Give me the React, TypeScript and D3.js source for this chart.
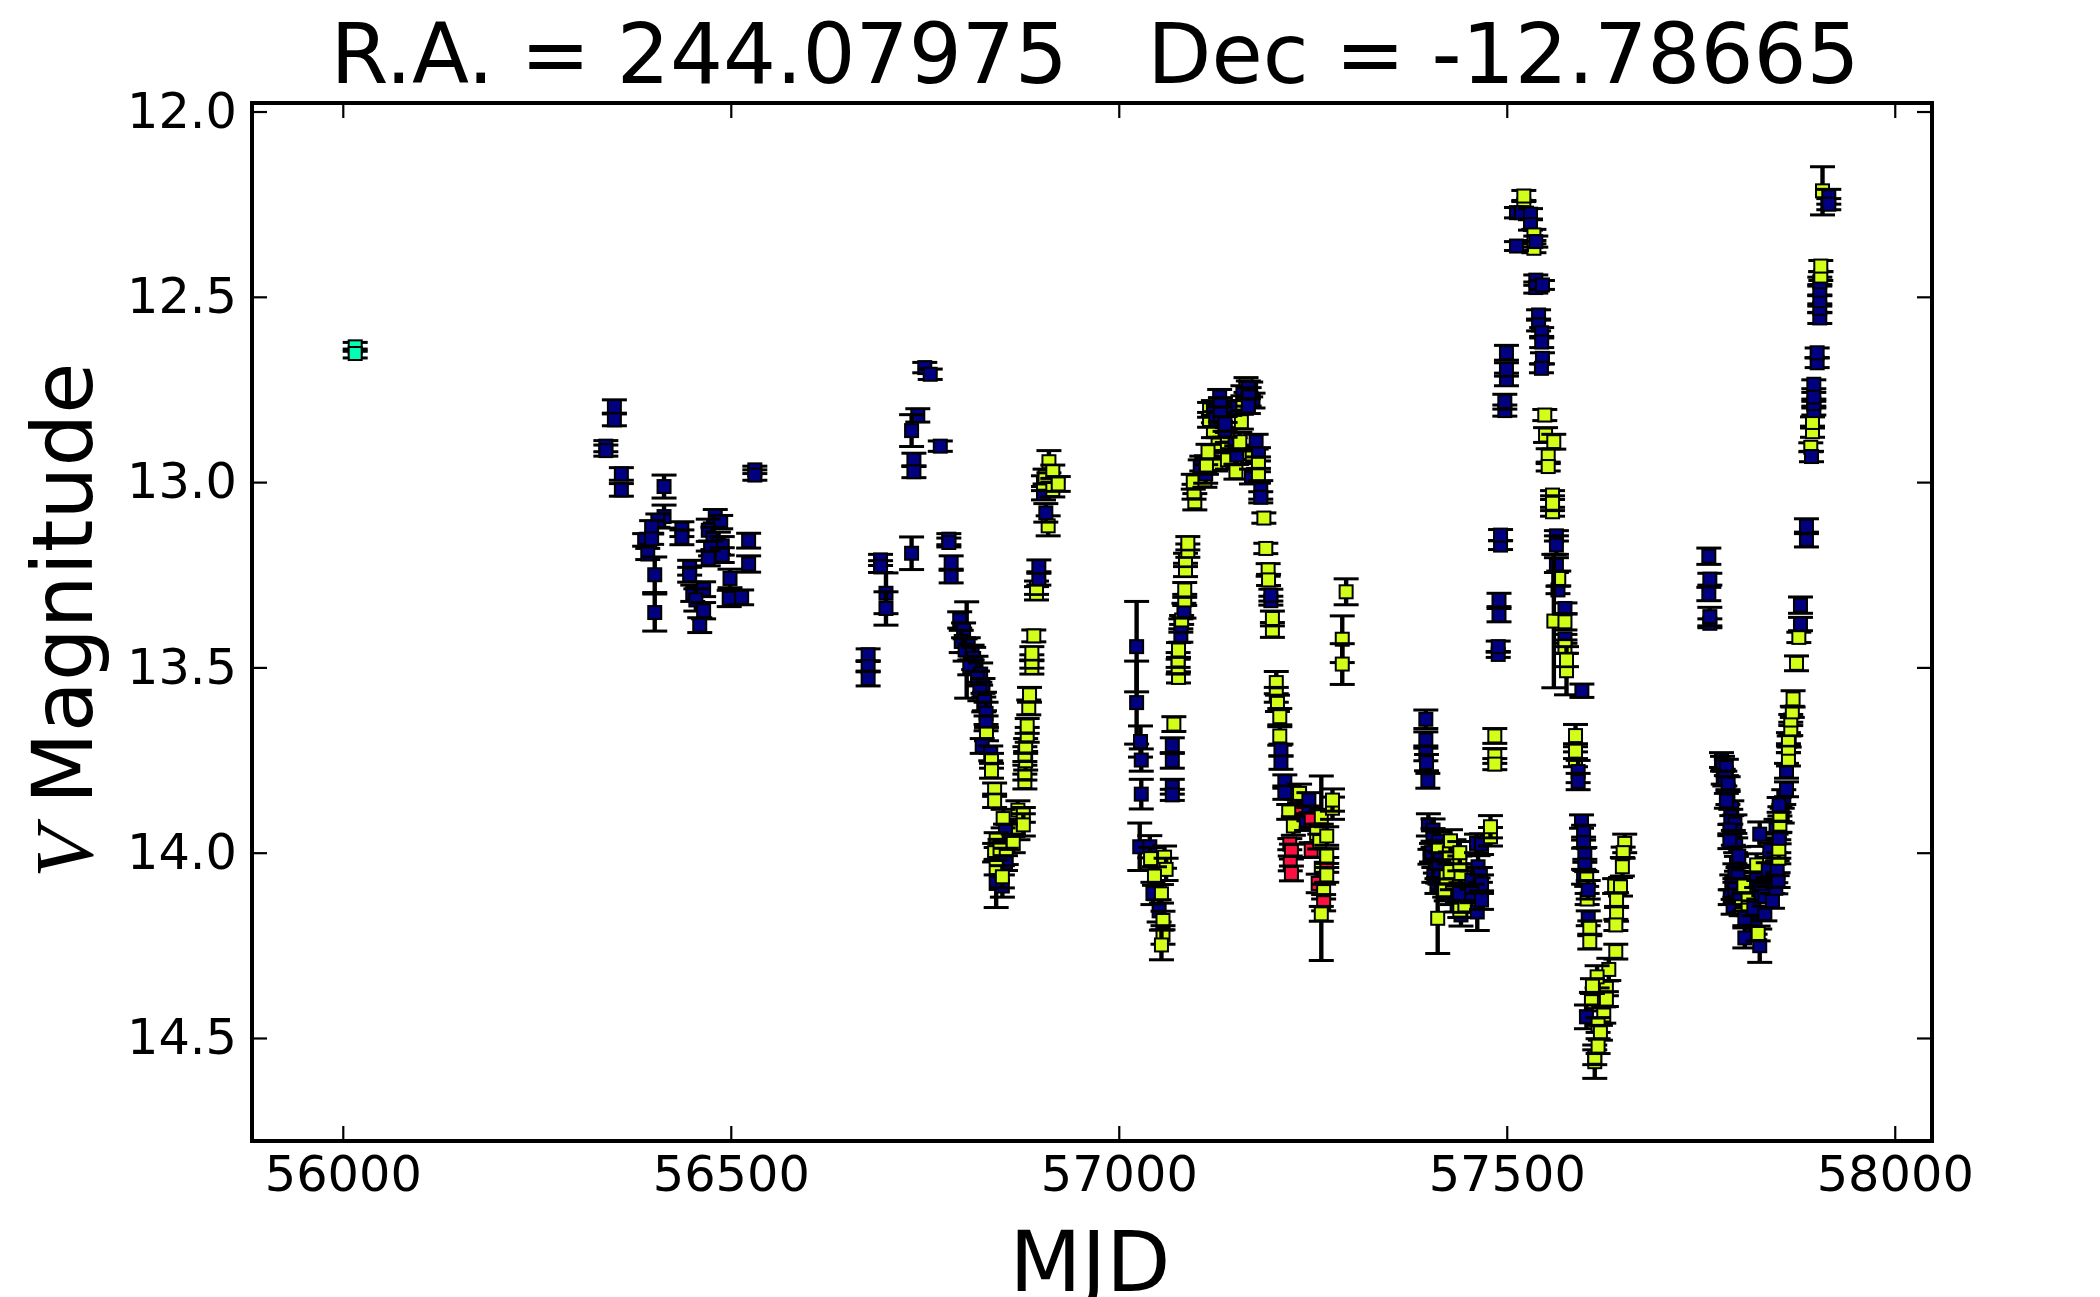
import { useEffect, useRef } from 'react'
import * as d3 from 'd3'

// one row = [MJD, V mag, error, camera]
type Obs = [number, number, number, string]

const xTicks = [56000, 56500, 57000, 57500, 58000]
const yTicks = [12.0, 12.5, 13.0, 13.5, 14.0, 14.5]
const cameraColor: Record<string, string> = { b: '#000080', y: '#d2ff1a', r: '#ff1040', t: '#00ffb4' }

const season2012: Obs[] = [
  [56016, 12.635, 0.012, 't'], [56016, 12.653, 0.012, 't'],
]

const season2013: Obs[] = [
  [56350, 12.796, 0.018, 'b'], [56350, 12.832, 0.016, 'b'], [56339, 12.903, 0.015, 'b'], [56339, 12.915, 0.015, 'b'],
  [56359, 12.978, 0.017, 'b'], [56359, 13.021, 0.017, 'b'], [56414, 13.012, 0.031, 'b'], [56414, 13.093, 0.031, 'b'],
  [56406, 13.104, 0.018, 'b'], [56398, 13.122, 0.018, 'b'], [56389, 13.156, 0.017, 'b'], [56398, 13.153, 0.015, 'b'],
  [56393, 13.194, 0.015, 'b'], [56402, 13.25, 0.048, 'b'], [56402, 13.352, 0.05, 'b'], [56437, 13.127, 0.02, 'b'],
  [56437, 13.149, 0.02, 'b'], [56447, 13.231, 0.02, 'b'], [56447, 13.25, 0.02, 'b'], [56451, 13.3, 0.022, 'b'],
  [56465, 13.289, 0.02, 'b'], [56455, 13.318, 0.03, 'b'], [56465, 13.347, 0.022, 'b'], [56460, 13.386, 0.02, 'b'],
  [56480, 13.092, 0.018, 'b'], [56487, 13.108, 0.018, 'b'], [56471, 13.13, 0.03, 'b'], [56477, 13.152, 0.03, 'b'],
  [56484, 13.165, 0.03, 'b'], [56489, 13.172, 0.025, 'b'], [56474, 13.179, 0.02, 'b'], [56489, 13.197, 0.02, 'b'],
  [56471, 13.206, 0.02, 'b'], [56523, 13.158, 0.02, 'b'], [56523, 13.221, 0.022, 'b'], [56499, 13.26, 0.025, 'b'],
  [56498, 13.314, 0.022, 'b'], [56514, 13.311, 0.02, 'b'], [56531, 12.967, 0.01, 'b'], [56531, 12.981, 0.014, 'b'],
]

const season2014: Obs[] = [
  [56750, 12.691, 0.014, 'b'], [56757, 12.709, 0.014, 'b'], [56741, 12.82, 0.018, 'b'], [56733, 12.861, 0.043, 'b'],
  [56736, 12.94, 0.018, 'b'], [56736, 12.972, 0.016, 'b'], [56770, 12.903, 0.014, 'b'], [56733, 13.192, 0.044, 'b'],
  [56781, 13.154, 0.015, 'b'], [56781, 13.163, 0.012, 'b'], [56784, 13.217, 0.018, 'b'], [56784, 13.255, 0.017, 'b'],
  [56693, 13.21, 0.015, 'b'], [56693, 13.228, 0.016, 'b'], [56700, 13.3, 0.055, 'b'], [56700, 13.341, 0.045, 'b'],
  [56677, 13.466, 0.016, 'b'], [56677, 13.498, 0.014, 'b'], [56677, 13.53, 0.02, 'b'],
  [56804, 13.453, 0.13, 'b'], [56795, 13.372, 0.022, 'b'], [56800, 13.4, 0.02, 'b'], [56797, 13.43, 0.03, 'b'],
  [56806, 13.44, 0.02, 'b'], [56802, 13.453, 0.03, 'b'], [56811, 13.46, 0.02, 'b'], [56813, 13.476, 0.03, 'b'],
  [56816, 13.49, 0.02, 'b'], [56808, 13.5, 0.02, 'b'], [56822, 13.518, 0.03, 'b'], [56818, 13.53, 0.02, 'b'],
  [56825, 13.55, 0.02, 'b'], [56821, 13.565, 0.025, 'b'], [56826, 13.6, 0.02, 'b'],
  [56827, 13.592, 0.025, 'b'], [56829, 13.624, 0.03, 'b'], [56829, 13.651, 0.02, 'b'], [56829.5, 13.68, 0.018, 'y'],
  [56824, 13.712, 0.02, 'b'], [56835, 13.732, 0.02, 'b'], [56836, 13.752, 0.02, 'y'], [56836, 13.779, 0.02, 'y'],
  [56840, 13.83, 0.018, 'y'], [56840, 13.86, 0.018, 'y'], [56842, 14.083, 0.065, 'b'],
  [56870, 13.885, 0.025, 'y'], [56877, 13.898, 0.02, 'y'], [56870, 13.94, 0.025, 'y'], [56877, 13.925, 0.03, 'y'],
  [56851, 13.908, 0.025, 'y'], [56854, 13.943, 0.02, 'b'], [56842, 13.966, 0.02, 'y'], [56847, 13.984, 0.02, 'b'],
  [56840, 14.0, 0.025, 'y'], [56847, 13.993, 0.02, 'y'], [56864, 13.975, 0.025, 'y'], [56855, 14.01, 0.022, 'y'],
  [56854, 14.028, 0.02, 'b'], [56842, 14.04, 0.02, 'y'], [56850, 14.09, 0.03, 'b'], [56850, 14.065, 0.03, 'y'],
  [56879, 13.808, 0.02, 'y'], [56879, 13.784, 0.02, 'y'], [56880, 13.752, 0.025, 'y'], [56879, 13.734, 0.02, 'y'],
  [56880, 13.712, 0.02, 'y'], [56882, 13.682, 0.02, 'y'], [56882, 13.658, 0.02, 'y'], [56884, 13.608, 0.02, 'y'],
  [56885, 13.574, 0.02, 'y'], [56888, 13.5, 0.018, 'y'], [56888, 13.484, 0.018, 'y'], [56888, 13.462, 0.018, 'y'],
  [56890.5, 13.415, 0.016, 'y'], [56894, 13.3, 0.018, 'y'], [56894, 13.285, 0.018, 'y'], [56897, 13.26, 0.018, 'b'],
  [56897, 13.228, 0.018, 'b'], [56909, 13.118, 0.027, 'y'], [56906, 13.083, 0.025, 'b'], [56903, 13.03, 0.018, 'b'],
  [56903, 13.003, 0.02, 'y'], [56905, 12.985, 0.02, 'y'], [56910, 12.945, 0.03, 'y'], [56915, 12.972, 0.018, 'y'],
  [56915, 13.02, 0.02, 'y'], [56922, 13.005, 0.02, 'y'],
]

const season2015: Obs[] = [
  [57023, 13.444, 0.122, 'b'], [57023, 13.595, 0.112, 'b'], [57028, 13.7, 0.042, 'b'], [57029, 13.75, 0.03, 'b'],
  [57029, 13.842, 0.04, 'b'], [57027, 13.984, 0.064, 'b'], [57040, 13.984, 0.03, 'b'], [57041, 14.016, 0.03, 'y'],
  [57059, 14.012, 0.03, 'y'], [57061, 14.045, 0.03, 'y'], [57046, 14.063, 0.025, 'y'], [57044, 14.11, 0.03, 'b'],
  [57055, 14.111, 0.025, 'y'], [57052, 14.157, 0.03, 'b'], [57057, 14.183, 0.025, 'y'], [57057, 14.222, 0.025, 'y'],
  [57055, 14.249, 0.04, 'y'],
  [57071, 13.653, 0.02, 'y'], [57069, 13.71, 0.02, 'b'], [57069, 13.752, 0.02, 'b'], [57069, 13.822, 0.02, 'b'],
  [57069, 13.844, 0.015, 'b'], [57077, 13.527, 0.015, 'y'], [57076.5, 13.498, 0.02, 'y'], [57076.5, 13.48, 0.02, 'y'],
  [57077, 13.453, 0.02, 'y'], [57080, 13.414, 0.018, 'b'], [57080, 13.387, 0.018, 'b'], [57081, 13.372, 0.012, 'y'],
  [57084, 13.347, 0.02, 'b'], [57085, 13.318, 0.015, 'y'], [57085, 13.291, 0.02, 'y'], [57086, 13.237, 0.018, 'y'],
  [57086, 13.21, 0.018, 'y'], [57089, 13.185, 0.018, 'y'], [57089, 13.165, 0.018, 'y'],
  [57098, 13.053, 0.022, 'y'], [57097, 13.026, 0.02, 'y'], [57096, 12.999, 0.02, 'y'], [57107, 12.95, 0.02, 'y'],
  [57105, 12.96, 0.02, 'b'], [57125, 12.95, 0.02, 'y'], [57122, 12.86, 0.02, 'y'], [57128, 12.9, 0.02, 'y'],
  [57111, 12.994, 0.02, 'y'], [57112, 12.978, 0.025, 'b'], [57113, 12.954, 0.025, 'y'], [57115, 12.918, 0.02, 'y'],
  [57140, 12.94, 0.025, 'y'], [57140, 12.891, 0.025, 'y'], [57140, 12.873, 0.02, 'y'], [57151, 12.972, 0.02, 'y'],
  [57150, 12.9, 0.02, 'b'], [57165, 12.92, 0.02, 'y'], [57172, 12.93, 0.02, 'y'],
  [57152, 12.927, 0.025, 'b'], [57156, 12.891, 0.025, 'y'], [57158, 12.837, 0.02, 'y'], [57117, 12.832, 0.02, 'y'],
  [57117, 12.805, 0.02, 'y'], [57122, 12.8, 0.02, 'b'], [57125, 12.83, 0.02, 'b'], [57143, 12.8, 0.02, 'b'],
  [57130, 12.77, 0.02, 'b'], [57131, 12.792, 0.02, 'b'], [57131, 12.817, 0.02, 'b'],
  [57137, 12.859, 0.02, 'b'], [57137, 12.843, 0.02, 'b'], [57164, 12.738, 0.02, 'y'], [57160, 12.787, 0.02, 'y'],
  [57160, 12.76, 0.02, 'b'], [57170, 12.75, 0.02, 'b'], [57173, 12.78, 0.02, 'b'],
  [57167, 12.747, 0.02, 'b'], [57168, 12.77, 0.025, 'b'], [57167, 12.795, 0.02, 'b'],
  [57177, 12.891, 0.02, 'b'], [57180, 12.925, 0.018, 'b'], [57171, 12.985, 0.02, 'b'], [57180, 12.952, 0.02, 'y'],
  [57180, 12.983, 0.02, 'y'], [57183, 13.021, 0.025, 'b'], [57183, 13.041, 0.015, 'b'], [57187, 13.097, 0.014, 'y'],
  [57189.5, 13.179, 0.014, 'y'], [57192.5, 13.237, 0.017, 'y'], [57193, 13.264, 0.015, 'y'], [57196, 13.32, 0.012, 'b'],
  [57196, 13.305, 0.016, 'b'], [57198, 13.399, 0.02, 'y'], [57198, 13.368, 0.02, 'y'],
  [57203, 13.541, 0.03, 'y'], [57203, 13.574, 0.02, 'y'], [57204.5, 13.597, 0.022, 'y'], [57207.5, 13.633, 0.022, 'y'],
  [57207.5, 13.685, 0.025, 'y'], [57209, 13.723, 0.016, 'b'], [57209, 13.757, 0.018, 'b'], [57214, 13.808, 0.018, 'b'],
  [57214, 13.838, 0.018, 'b'], [57261, 14.042, 0.249, 'y'], [57230, 13.876, 0.02, 'r'], [57233, 13.84, 0.025, 'y'],
  [57219, 13.89, 0.02, 'y'], [57225, 13.928, 0.025, 'y'], [57245, 13.858, 0.02, 'b'], [57245, 13.894, 0.02, 'b'],
  [57242, 13.92, 0.02, 'b'], [57248, 13.912, 0.02, 'r'], [57220.4, 13.977, 0.015, 'r'], [57222.5, 13.997, 0.02, 'r'],
  [57221, 14.029, 0.02, 'r'], [57222.5, 14.056, 0.02, 'r'], [57248, 13.993, 0.02, 'r'], [57255, 13.948, 0.025, 'y'],
  [57259, 13.97, 0.02, 'y'], [57261, 13.903, 0.02, 'y'], [57268, 14.033, 0.02, 'r'], [57257, 14.083, 0.025, 'r'],
  [57264, 14.105, 0.02, 'y'], [57264, 14.135, 0.022, 'r'], [57261, 14.165, 0.02, 'y'], [57268, 14.009, 0.02, 'y'],
  [57268, 14.06, 0.02, 'y'], [57268, 13.955, 0.025, 'y'], [57275.4, 13.88, 0.03, 'y'], [57275.4, 13.858, 0.03, 'y'],
  [57293, 13.296, 0.035, 'y'], [57288, 13.424, 0.063, 'y'], [57288, 13.491, 0.055, 'y'],
]

const season2016: Obs[] = [
  [57395.7, 13.64, 0.025, 'b'], [57395.7, 13.696, 0.022, 'b'], [57395.7, 13.732, 0.02, 'b'], [57396.6, 13.757, 0.022, 'b'],
  [57398.3, 13.806, 0.02, 'b'], [57411, 14.177, 0.095, 'y'], [57399, 13.925, 0.03, 'b'], [57405, 13.939, 0.03, 'b'],
  [57405, 13.96, 0.025, 'b'], [57408, 14.03, 0.025, 'b'], [57406, 14.06, 0.02, 'b'], [57410, 14.09, 0.02, 'b'],
  [57418, 14.08, 0.02, 'b'], [57422, 14.11, 0.02, 'b'], [57430, 14.12, 0.02, 'b'], [57436, 14.14, 0.02, 'b'],
  [57401, 14.011, 0.02, 'b'], [57403, 14.0, 0.025, 'b'], [57412, 13.97, 0.025, 'b'], [57412, 13.993, 0.025, 'y'],
  [57414, 14.02, 0.02, 'b'], [57412, 14.042, 0.025, 'b'], [57414, 14.065, 0.02, 'b'], [57417, 14.087, 0.02, 'b'],
  [57420, 14.1, 0.02, 'y'], [57432, 13.99, 0.025, 'y'], [57435, 14.05, 0.02, 'y'], [57430, 14.08, 0.02, 'y'],
  [57422, 14.065, 0.02, 'y'], [57427, 14.051, 0.02, 'y'], [57426, 14.0, 0.03, 'y'], [57427.5, 13.968, 0.03, 'y'],
  [57441, 14.168, 0.03, 'b'], [57439.5, 14.155, 0.02, 'y'], [57446, 14.141, 0.02, 'y'], [57448, 14.11, 0.02, 'y'],
  [57439, 14.11, 0.02, 'b'], [57441, 14.056, 0.025, 'y'], [57439.5, 14.029, 0.02, 'y'], [57439.5, 14.0, 0.03, 'y'],
  [57461, 13.975, 0.025, 'b'], [57467.5, 13.977, 0.028, 'b'], [57463, 14.038, 0.03, 'b'], [57455, 14.074, 0.025, 'b'],
  [57466, 14.06, 0.02, 'b'], [57467.5, 14.085, 0.025, 'b'], [57455, 14.11, 0.025, 'b'], [57462, 14.16, 0.05, 'b'],
  [57467.5, 14.128, 0.025, 'b'], [57479, 13.957, 0.025, 'y'], [57479, 13.93, 0.03, 'y'],
  [57484.6, 13.685, 0.02, 'y'], [57484.6, 13.739, 0.02, 'y'], [57484.6, 13.761, 0.015, 'y'],
  [57489, 13.465, 0.008, 'b'], [57489, 13.444, 0.015, 'b'], [57490, 13.359, 0.018, 'b'], [57490, 13.318, 0.018, 'b'],
  [57492, 13.17, 0.012, 'b'], [57492, 13.143, 0.015, 'b'], [57497.5, 12.807, 0.015, 'b'], [57497.5, 12.783, 0.02, 'b'],
  [57499.6, 12.723, 0.017, 'b'], [57499.6, 12.696, 0.018, 'b'], [57499.6, 12.651, 0.02, 'b'],
  [57522, 12.252, 0.012, 'y'], [57522, 12.228, 0.015, 'y'], [57512.5, 12.273, 0.014, 'b'], [57519, 12.273, 0.015, 'b'],
  [57530.6, 12.277, 0.015, 'b'], [57530.6, 12.305, 0.015, 'b'], [57535, 12.333, 0.015, 'y'], [57535, 12.369, 0.012, 'y'],
  [57537.4, 12.351, 0.015, 'b'], [57512.5, 12.363, 0.012, 'b'], [57537.4, 12.455, 0.014, 'b'], [57537.4, 12.475, 0.015, 'b'],
  [57546, 12.468, 0.012, 'b'], [57541, 12.549, 0.014, 'b'], [57541, 12.576, 0.016, 'b'], [57545, 12.597, 0.014, 'b'],
  [57545, 12.622, 0.015, 'b'], [57546, 12.666, 0.015, 'b'], [57544.7, 12.693, 0.012, 'b'],
  [57549, 12.819, 0.015, 'y'], [57550, 12.873, 0.02, 'y'], [57560.6, 12.891, 0.02, 'y'], [57553.4, 12.93, 0.02, 'y'],
  [57553.4, 12.958, 0.012, 'y'], [57559, 13.035, 0.012, 'y'], [57559, 13.08, 0.012, 'y'], [57559, 13.057, 0.02, 'y'],
  [57564, 13.145, 0.014, 'b'], [57564, 13.17, 0.025, 'b'], [57564, 13.224, 0.02, 'b'], [57566, 13.291, 0.01, 'b'],
  [57567, 13.26, 0.02, 'y'], [57560.7, 13.375, 0.18, 'y'], [57575, 13.341, 0.015, 'b'], [57575, 13.377, 0.022, 'y'],
  [57575, 13.423, 0.012, 'b'], [57575, 13.444, 0.018, 'y'], [57577, 13.509, 0.065, 'y'], [57577, 13.48, 0.018, 'y'],
  [57596.8, 13.563, 0.018, 'b'],
  [57588.6, 13.684, 0.03, 'y'], [57588.6, 13.748, 0.02, 'y'], [57588.6, 13.726, 0.02, 'y'], [57592, 13.781, 0.03, 'b'],
  [57592, 13.808, 0.022, 'b'], [57596.3, 13.916, 0.018, 'b'], [57599, 13.946, 0.02, 'b'], [57599, 13.973, 0.015, 'b'],
  [57600.6, 14.006, 0.02, 'b'], [57600.6, 14.033, 0.015, 'b'], [57599, 14.065, 0.02, 'b'], [57603.6, 14.125, 0.015, 'y'],
  [57603, 14.071, 0.02, 'y'], [57605, 14.1, 0.025, 'b'], [57605, 14.177, 0.02, 'b'], [57607, 14.204, 0.02, 'y'],
  [57607, 14.24, 0.02, 'y'],
  [57652, 13.975, 0.025, 'y'], [57650, 14.0, 0.015, 'y'], [57649, 14.038, 0.025, 'y'], [57639, 14.09, 0.02, 'y'],
  [57646.6, 14.092, 0.025, 'y'], [57641.5, 14.128, 0.02, 'y'], [57641.5, 14.165, 0.02, 'y'], [57640.6, 14.195, 0.015, 'y'],
  [57640.5, 14.267, 0.02, 'y'], [57631.5, 14.315, 0.03, 'y'], [57628.4, 14.366, 0.02, 'y'], [57628.4, 14.395, 0.02, 'y'],
  [57616.4, 14.335, 0.03, 'y'], [57610.4, 14.36, 0.02, 'y'], [57609.1, 14.402, 0.025, 'y'], [57602.7, 14.443, 0.032, 'b'],
  [57625, 14.438, 0.022, 'y'], [57617.7, 14.465, 0.02, 'y'], [57620.7, 14.486, 0.02, 'y'], [57613.4, 14.564, 0.045, 'y'],
  [57613.4, 14.552, 0.02, 'y'], [57617.7, 14.522, 0.02, 'y'],
]

const season2017: Obs[] = [
  [57760.4, 13.2, 0.022, 'b'], [57761.7, 13.262, 0.016, 'b'], [57760.4, 13.302, 0.018, 'b'], [57761.7, 13.381, 0.012, 'b'],
  [57761.7, 13.363, 0.025, 'b'],
  [57776.7, 13.75, 0.02, 'b'], [57778, 13.76, 0.02, 'b'], [57779, 13.795, 0.02, 'b'], [57783, 13.77, 0.022, 'b'],
  [57781, 13.8, 0.02, 'b'], [57785.3, 13.815, 0.02, 'b'], [57785, 13.85, 0.02, 'b'], [57790, 13.88, 0.02, 'b'],
  [57783, 13.86, 0.02, 'b'], [57788.7, 13.903, 0.02, 'b'], [57794, 13.923, 0.025, 'b'], [57787.5, 13.939, 0.015, 'b'],
  [57792, 13.96, 0.02, 'b'], [57795, 13.98, 0.02, 'b'], [57796, 14.03, 0.02, 'b'], [57790, 14.08, 0.02, 'b'],
  [57788, 14.12, 0.02, 'b'], [57802, 14.15, 0.02, 'b'], [57815, 14.18, 0.02, 'b'], [57820, 14.2, 0.02, 'b'],
  [57838, 14.08, 0.02, 'b'], [57843, 14.05, 0.02, 'b'], [57845, 13.98, 0.02, 'b'], [57847, 13.93, 0.02, 'b'],
  [57855, 13.9, 0.02, 'b'], [57857, 13.85, 0.02, 'b'],
  [57787.5, 13.969, 0.02, 'b'], [57799, 14.009, 0.025, 'b'], [57794, 14.05, 0.02, 'b'], [57798, 14.065, 0.025, 'b'],
  [57794, 14.1, 0.02, 'b'], [57791.7, 14.146, 0.02, 'b'], [57800.3, 14.118, 0.02, 'b'], [57805.5, 14.09, 0.02, 'y'],
  [57802.5, 14.146, 0.015, 'y'], [57811, 14.128, 0.02, 'y'], [57811, 14.155, 0.015, 'y'], [57806.8, 14.177, 0.02, 'b'],
  [57806.8, 14.23, 0.027, 'b'], [57826, 14.251, 0.045, 'b'], [57824, 14.218, 0.02, 'y'], [57826, 13.95, 0.033, 'b'],
  [57822, 14.033, 0.03, 'y'], [57822, 14.074, 0.02, 'b'], [57824.8, 14.1, 0.025, 'b'], [57818.4, 14.15, 0.02, 'b'],
  [57828, 14.11, 0.02, 'b'], [57832.6, 14.118, 0.015, 'b'], [57832.6, 14.164, 0.02, 'b'], [57837, 14.047, 0.02, 'b'],
  [57839, 13.993, 0.02, 'b'], [57842.4, 14.13, 0.02, 'b'], [57846.7, 14.096, 0.015, 'b'], [57849.7, 14.074, 0.02, 'b'],
  [57848.5, 14.042, 0.02, 'b'], [57850.6, 14.015, 0.015, 'y'], [57850.6, 13.99, 0.025, 'y'], [57851, 13.961, 0.015, 'b'],
  [57852, 13.923, 0.022, 'y'], [57852, 13.896, 0.02, 'y'], [57851, 13.871, 0.02, 'b'], [57860.5, 13.829, 0.02, 'b'],
  [57860.5, 13.779, 0.02, 'b'], [57863, 13.748, 0.018, 'y'], [57864, 13.7, 0.015, 'y'], [57863, 13.718, 0.012, 'y'],
  [57863, 13.694, 0.018, 'y'], [57866, 13.666, 0.018, 'y'], [57866, 13.642, 0.015, 'y'], [57868, 13.62, 0.015, 'y'],
  [57869, 13.585, 0.022, 'y'], [57873.4, 13.489, 0.02, 'y'],
  [57876.4, 13.419, 0.014, 'y'], [57878.5, 13.383, 0.018, 'b'], [57878.5, 13.332, 0.022, 'b'],
  [57886.2, 13.155, 0.02, 'b'], [57886.2, 13.119, 0.02, 'b'], [57891.8, 12.906, 0.012, 'y'], [57892.7, 12.931, 0.014, 'b'],
  [57894, 12.864, 0.015, 'y'], [57894, 12.839, 0.015, 'y'], [57895.7, 12.807, 0.012, 'b'], [57895.7, 12.788, 0.012, 'b'],
  [57895.7, 12.77, 0.012, 'b'], [57895.7, 12.736, 0.012, 'b'], [57900, 12.678, 0.013, 'b'], [57900, 12.651, 0.013, 'b'],
  [57903.4, 12.557, 0.015, 'b'], [57903.4, 12.531, 0.012, 'b'], [57903.4, 12.51, 0.015, 'b'], [57903.4, 12.482, 0.015, 'b'],
  [57903.4, 12.459, 0.012, 'b'], [57904.7, 12.444, 0.012, 'y'], [57904.7, 12.417, 0.015, 'y'],
  [57906.9, 12.214, 0.065, 'y'], [57915, 12.23, 0.02, 'b'], [57915, 12.25, 0.015, 'b'],
]

const seasons = [season2012, season2013, season2014, season2015, season2016, season2017]

const frame = { left: 252, right: 1932, top: 103, bottom: 1141 }

export default function App() {
  const svgRef = useRef<SVGSVGElement | null>(null)

  useEffect(() => {
    if (!svgRef.current) return
    const svg = d3.select(svgRef.current)
    svg.selectAll('*').remove()
    const font = '"DejaVu Sans", sans-serif'

    const x = d3.scaleLinear().domain([55883, 58048]).range([frame.left, frame.right])
    const y = d3.scaleLinear().domain([11.977, 14.778]).range([frame.top, frame.bottom])

    // points, oldest season first so later ones sit on top
    const marks = svg.append('g')
    seasons.flat().forEach(([mjd, mag, err, cam]) => {
      const px = x(mjd)
      marks.append('line').attr('x1', px).attr('x2', px).attr('y1', y(mag - err)).attr('y2', y(mag + err))
        .attr('stroke', '#000').attr('stroke-width', 4.4)
      ;[mag - err, mag + err].forEach(v => {
        marks.append('line').attr('x1', px - 12.5).attr('x2', px + 12.5).attr('y1', y(v)).attr('y2', y(v))
          .attr('stroke', '#000').attr('stroke-width', 3)
      })
      marks.append('rect').attr('x', px - 6.5).attr('y', y(mag) - 6.5).attr('width', 13).attr('height', 13)
        .attr('fill', cameraColor[cam]).attr('stroke', '#000').attr('stroke-width', 2)
    })

    // Axes, ticks point inwards on all four sides
    const tick = 15
    const styleAxis = (g: d3.Selection<SVGGElement, unknown, null, undefined>) => {
      g.select('.domain').remove()
      g.selectAll('line').attr('stroke', '#000').attr('stroke-width', 2.2)
      g.selectAll('text').attr('font-family', font).attr('font-size', 49.4).attr('fill', '#000')
    }
    svg.append('g').attr('transform', `translate(0,${frame.bottom})`)
      .call(d3.axisBottom(x).tickValues(xTicks).tickFormat(d3.format('d')).tickSize(-tick).tickPadding(15))
      .call(styleAxis)
    svg.append('g').attr('transform', `translate(0,${frame.top})`)
      .call(d3.axisTop(x).tickValues(xTicks).tickFormat(() => '').tickSize(-tick))
      .call(styleAxis)
    svg.append('g').attr('transform', `translate(${frame.left},0)`)
      .call(d3.axisLeft(y).tickValues(yTicks).tickFormat(d3.format('.1f')).tickSize(-tick).tickPadding(15))
      .call(styleAxis)
    svg.append('g').attr('transform', `translate(${frame.right},0)`)
      .call(d3.axisRight(y).tickValues(yTicks).tickFormat(() => '').tickSize(-tick))
      .call(styleAxis)

    svg.append('rect').attr('x', frame.left).attr('y', frame.top)
      .attr('width', frame.right - frame.left).attr('height', frame.bottom - frame.top)
      .attr('fill', 'none').attr('stroke', '#000').attr('stroke-width', 4)

    // Title and axis labels
    svg.append('text').attr('x', 1095).attr('y', 83).attr('text-anchor', 'middle')
      .attr('font-family', font).attr('font-size', 83.4).attr('fill', '#000')
      .style('white-space', 'pre').text('R.A. = 244.07975   Dec = -12.78665')
    svg.append('text').attr('x', 1090).attr('y', 1291).attr('text-anchor', 'middle')
      .attr('font-family', font).attr('font-size', 83.4).attr('fill', '#000').text('MJD')
    const yLabel = svg.append('text').attr('transform', 'translate(92,620) rotate(-90)').attr('text-anchor', 'middle')
      .attr('font-family', font).attr('font-size', 83.4).attr('fill', '#000').style('white-space', 'pre')
    yLabel.append('tspan').attr('font-family', '"Liberation Serif", serif').attr('font-style', 'italic').text('V')
    yLabel.append('tspan').attr('dx', -4).text(' Magnitude')
  }, [])

  return <svg ref={svgRef} width={2100} height={1297} style={{ position: 'absolute', left: 0, top: 0, background: '#fff' }} />
}
